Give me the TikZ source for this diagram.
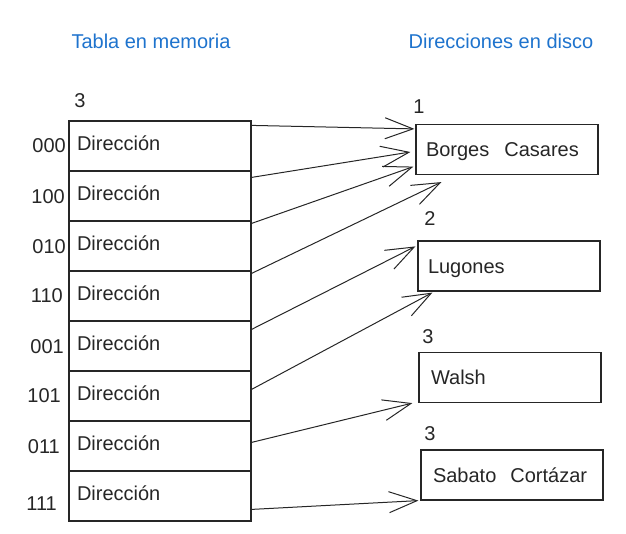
\documentclass[tikz,border=0pt]{standalone}
\usepackage{fontspec}
\setmainfont{Liberation Sans}
\usetikzlibrary{arrows.meta}
\definecolor{title-blue}{RGB}{30,115,205}
\definecolor{ink}{RGB}{38,38,38}

\begin{document}
\begin{tikzpicture}[x=1pt,y=-1pt,color=ink,
	font=\fontsize{20}{24}\selectfont,
	cell/.style={draw,line width=1.2pt,minimum height=50pt,text width=166pt,align=left,
		inner xsep=8pt,inner ysep=0pt,text height=12pt,text depth=4pt},
	bucket/.style={draw,line width=1.2pt,minimum height=50pt,text width=162pt,align=left,
		inner xsep=10pt,inner ysep=0pt,text height=14pt,text depth=0pt},
	ptr/.style={line width=1pt,-{Straight Barb[length=28pt,width=21pt]}}]
	\useasboundingbox (0,0) rectangle (626,533);

	% Titles
	\node[title-blue,anchor=base] (ttabla) at (151,48) {Tabla en memoria};
	\node[title-blue,anchor=base] (tdisco) at (501,48) {Direcciones en disco};

	% Table in memory, one row per suffix
	\node[anchor=base] (gtabla) at (80,107) {3};
	\foreach \bits/\bx/\by [count=\i] in {000/66/152,100/65/203,010/66/253,110/63/302,001/64/353,101/61/402,011/60/453,111/57/510}{
		\node[cell] (r\i) at (160,{96+50*\i}) {Dirección};
		\node[anchor=base east,inner sep=0pt] (k\i) at (\bx,\by) {\bits};
	}

	% Buckets on disk
	\node[bucket] (b1) at (507,149.5) {Borges\hspace{15pt}Casares};
	\node[bucket] (b2) at (509,266) {Lugones};
	\node[bucket] (b3) at (510,377.5) {\hspace*{2pt}Walsh};
	\node[bucket] (b4) at (512,475) {\hspace*{2pt}Sabato\hspace{14pt}Cortázar};

	\node[anchor=base] (g1) at (419,113) {1};
	\node[anchor=base] (g2) at (430,225) {2};
	\node[anchor=base] (g3) at (428,343) {3};
	\node[anchor=base] (g4) at (430,440) {3};

	% Pointers from the table to the buckets
	\draw[ptr] ([shift={(0,5)}]r1.north east) -- ([shift={(-1,5)}]b1.north west);
	\draw[ptr] ([shift={(0,7)}]r2.north east) -- ([shift={(-5,2.5)}]b1.west);
	\draw[ptr] ([shift={(0,3)}]r3.north east) -- ([shift={(-2,-8.5)}]b1.south west);
	\draw[ptr] ([shift={(0,3)}]r4.north east) -- ([shift={(26,7)}]b1.south west);
	\draw[ptr] ([shift={(0,9)}]r5.north east) -- ([shift={(-2,6)}]b2.north west);
	\draw[ptr] ([shift={(0,19)}]r6.north east) -- ([shift={(15,1)}]b2.south west);
	\draw[ptr] ([shift={(0,22)}]r7.north east) -- ([shift={(-6,0)}]b3.south west);
	\draw[ptr] ([shift={(0,39)}]r8.north east) -- ([shift={(-2,0)}]b4.south west);
\end{tikzpicture}
\end{document}
